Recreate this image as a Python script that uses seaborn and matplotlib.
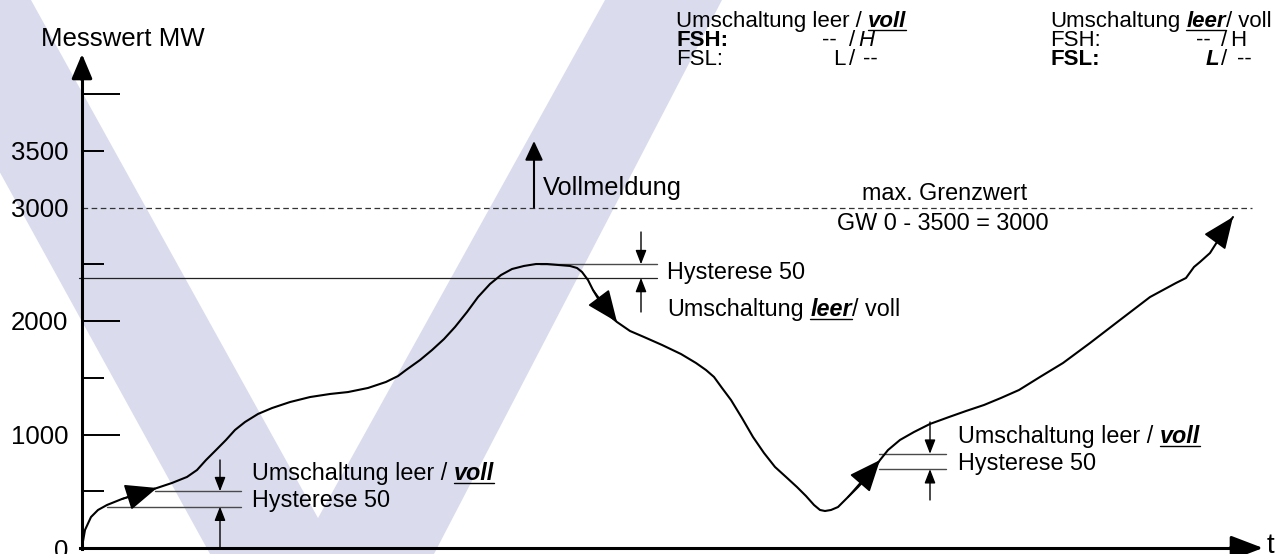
import matplotlib
matplotlib.use("Agg")
import matplotlib.pyplot as plt
import seaborn as sns
import pandas as pd
from matplotlib.patches import Polygon

# ---------------- data ----------------
t_values = [0, 3, 9, 16, 25, 40, 59, 75, 90, 105, 115, 124, 134, 144, 153, 163, 176, 190, 208, 228,
            248, 266, 286, 304, 316, 324, 338, 350, 362, 373, 385, 396, 408, 419, 430, 442, 454, 465,
            477, 488, 495, 500, 506, 511, 517, 523, 529, 535, 548, 562, 580, 599, 614, 624, 632, 640,
            649, 660, 671, 682, 693, 704, 715, 724, 732, 738, 743, 749, 756, 766, 776, 789, 798, 806,
            818, 832, 848, 867, 884, 902, 919, 937, 958, 981, 1008, 1038, 1068, 1094, 1104, 1112,
            1118, 1128, 1135, 1140, 1151]
mw_values = [10, 159, 273, 335, 379, 432, 485, 529, 573, 626, 687, 775, 863, 952, 1040, 1110, 1181,
             1233, 1286, 1330, 1357, 1374, 1410, 1463, 1515, 1568, 1656, 1744, 1841, 1947, 2079, 2211,
             2326, 2405, 2458, 2485, 2502, 2502, 2493, 2485, 2467, 2432, 2361, 2273, 2185, 2097, 2035,
             1991, 1912, 1859, 1789, 1709, 1630, 1568, 1507, 1410, 1304, 1145, 978, 837, 714, 626, 537,
             458, 379, 335, 326, 335, 361, 449, 537, 661, 775, 863, 952, 1022, 1093, 1154, 1207, 1260,
             1322, 1392, 1507, 1630, 1806, 2009, 2211, 2335, 2379, 2476, 2520, 2599, 2696, 2784, 2916]

y_major_ticks = [1000, 2000, 4000]
y_minor_ticks = [500, 1500, 2500, 3500]
y_label_values = [0, 1000, 2000, 3000, 3500]
y_label_texts = ["0", "1000", "2000", "3000", "3500"]
limit_value = 3000
vollmeldung_top = 3586
hyst_left = [500, 365]
hyst_top = [2500, 2380]
hyst_right = [830, 695]

# ---------------- figure / scales ----------------
X0, Y0, SY = 82, 548, 0.1135


def px(x):
    return x - X0


def py(y):
    return (Y0 - y) / SY


sns.set_theme(style="white")
plt.rcParams["font.family"] = ["Liberation Sans", "DejaVu Sans"]
plt.rcParams["text.color"] = "black"

fig = plt.figure(figsize=(12.85, 5.54), dpi=100)
ax = fig.add_axes([0, 0, 1, 1])
ax.set_facecolor("white")

# watermark "V"
wm = [(-95, 0), (31, 0), (318, 518), (605, 0), (722, 0), (434, 554), (210, 554)]
ax.add_patch(Polygon([(px(a), py(b)) for a, b in wm], closed=True,
                     facecolor="#dadcee", edgecolor="none", zorder=0))

df = pd.DataFrame({"t": t_values, "MW": mw_values})
sns.lineplot(data=df, x="t", y="MW", sort=False, estimator=None, color="black",
             lw=1.5, ax=ax, zorder=5)

ax.set_xlim(px(0), px(1285))
ax.set_ylim(py(554), py(0))
ax.set_xlabel("")
ax.set_ylabel("")

# axes as arrows
for s in ["top", "right"]:
    ax.spines[s].set_visible(False)
ax.spines["left"].set_position(("data", 0))
ax.spines["bottom"].set_position(("data", 0))
ax.spines["left"].set_bounds(py(549), py(70))
ax.spines["bottom"].set_bounds(px(80), px(1240))
for s in ["left", "bottom"]:
    ax.spines[s].set_linewidth(2.2)
    ax.spines[s].set_color("black")
    ax.spines[s].set_zorder(6)
ax.annotate("", xy=(0, py(54)), xytext=(0, py(80)),
            arrowprops=dict(arrowstyle="-|>,head_length=1.0,head_width=0.42",
                            mutation_scale=15, lw=2.2, color="black",
                            shrinkA=0, shrinkB=0), zorder=7)
ax.annotate("", xy=(px(1263), 0), xytext=(px(1230), 0),
            arrowprops=dict(arrowstyle="-|>,head_length=1.1,head_width=0.42",
                            mutation_scale=18, lw=2.2, color="black",
                            shrinkA=0, shrinkB=0), zorder=7)

ax.set_xticks([])
ax.set_yticks(y_major_ticks)
ax.set_yticks(y_minor_ticks, minor=True)
ax.tick_params(axis="y", which="major", direction="in", length=27.5, width=1.4,
               color="black", left=True, labelleft=False)
ax.tick_params(axis="y", which="minor", direction="in", length=16, width=1.4,
               color="black", left=True, labelleft=False)

for v, s in zip(y_label_values, y_label_texts):
    ax.text(px(68), v, s, ha="right", va="center_baseline", fontsize=18.5, color="black")

ax.text(px(41), py(46), "Messwert MW", ha="left", va="baseline", fontsize=18.6)
ax.text(px(1267), py(553), "t", ha="left", va="baseline", fontsize=20)

# limit line
ax.plot([0, px(1252)], [limit_value, limit_value], color="#333333", lw=0.9,
        dashes=(4.5, 2.8), zorder=3)
ax.annotate("", xy=(px(534), vollmeldung_top), xytext=(px(534), limit_value),
            arrowprops=dict(arrowstyle="-|>,head_length=0.9,head_width=0.42",
                            mutation_scale=13, lw=1.5, color="black",
                            shrinkA=0, shrinkB=0))
ax.text(px(543), py(195), "Vollmeldung", ha="left", va="baseline", fontsize=18.3)
ax.text(px(945), py(200), "max. Grenzwert", ha="center", va="baseline", fontsize=16.8)
ax.text(px(943), py(230), "GW 0 - 3500 = 3000", ha="center", va="baseline", fontsize=16.8)

# curve arrowheads
def curve_arrow(i_from, i_to, scale=20):
    ax.annotate("", xy=(t_values[i_to], mw_values[i_to]),
                xytext=(t_values[i_from], mw_values[i_from]),
                arrowprops=dict(arrowstyle="-|>,head_length=1.0,head_width=0.42",
                                mutation_scale=scale, lw=1.2, color="black",
                                shrinkA=0, shrinkB=0), zorder=6)


curve_arrow(5, 7)
curve_arrow(43, 47)
curve_arrow(69, 72)
curve_arrow(93, 94)

# hysteresis marks
HC = "#4a4a4a"


def small_arrow(x, y_from, y_to):
    ax.annotate("", xy=(x, y_to), xytext=(x, y_from),
                arrowprops=dict(arrowstyle="-|>,head_length=0.85,head_width=0.33",
                                mutation_scale=10, lw=1.0, color="black",
                                shrinkA=0, shrinkB=0))


ax.plot([px(155), px(241)], [hyst_left[0]] * 2, color=HC, lw=1.0, zorder=4)
ax.plot([px(107), px(241)], [hyst_left[1]] * 2, color=HC, lw=1.0, zorder=4)
small_arrow(px(220), py(460), hyst_left[0])
small_arrow(px(220), 0, hyst_left[1])

ax.plot([px(540), px(657)], [hyst_top[0]] * 2, color=HC, lw=1.0, zorder=4)
ax.plot([px(79), px(657)], [hyst_top[1]] * 2, color="#222222", lw=0.9, zorder=4)
small_arrow(px(641), py(232), hyst_top[0])
small_arrow(px(641), py(312), hyst_top[1])

ax.plot([px(879), px(946)], [hyst_right[0]] * 2, color=HC, lw=1.0, zorder=4)
ax.plot([px(879), px(946)], [hyst_right[1]] * 2, color=HC, lw=1.0, zorder=4)
small_arrow(px(930), py(422), hyst_right[0])
small_arrow(px(930), py(500), hyst_right[1])

# rich text helper
fig.canvas.draw()
renderer = fig.canvas.get_renderer()


def tw(s, size, weight="normal", style="normal"):
    t = ax.text(0, 0, s, fontsize=size, fontweight=weight, fontstyle=style)
    w = t.get_window_extent(renderer).width
    t.remove()
    return w


def rich(x, ybase, parts, size):
    cur = x
    sp = tw("a a", size) - tw("aa", size)
    for p in parts:
        s = p[0]
        weight = p[1] if len(p) > 1 else "normal"
        style = p[2] if len(p) > 2 else "normal"
        ul = p[3] if len(p) > 3 else False
        if s == " ":
            cur += sp
            continue
        ax.text(px(cur), py(ybase), s, fontsize=size, fontweight=weight, fontstyle=style,
                ha="left", va="baseline", color="black")
        wd = tw(s, size, weight, style)
        if ul:
            ax.plot([px(cur), px(cur + wd)], [py(ybase + 3)] * 2, color="black", lw=1.0)
        cur += wd


VOLL = [("Umschaltung leer /",), (" ",), ("voll", "bold", "italic", True)]
LEER = [("Umschaltung",), (" ",), ("leer", "bold", "italic", True), ("/ voll",)]

rich(252, 480, VOLL, 16.8)
rich(252, 507, [("Hysterese 50",)], 16.8)
rich(667, 279, [("Hysterese 50",)], 16.8)
rich(667, 316, LEER, 16.8)
rich(958, 443, VOLL, 16.8)
rich(958, 470, [("Hysterese 50",)], 16.8)

# top-right legend blocks
TS = 16
B1, B2, B3 = 27, 46, 65
rich(676, B1, VOLL, TS)
ax.text(px(676), py(B2), "FSH:", fontsize=TS, fontweight="bold", va="baseline")
ax.text(px(822), py(B2), "--", fontsize=TS, va="baseline")
ax.text(px(849), py(B2), "/", fontsize=TS, va="baseline")
ax.text(px(858), py(B2), "H", fontsize=TS, fontstyle="italic", va="baseline")
ax.text(px(676), py(B3), "FSL:", fontsize=TS, va="baseline")
ax.text(px(833), py(B3), "L", fontsize=TS, va="baseline")
ax.text(px(849), py(B3), "/", fontsize=TS, va="baseline")
ax.text(px(863), py(B3), "--", fontsize=TS, va="baseline")

rich(1050, B1, LEER, TS)
ax.text(px(1050), py(B2), "FSH:", fontsize=TS, va="baseline")
ax.text(px(1196), py(B2), "--", fontsize=TS, va="baseline")
ax.text(px(1221), py(B2), "/", fontsize=TS, va="baseline")
ax.text(px(1230), py(B2), "H", fontsize=TS, va="baseline")
ax.text(px(1050), py(B3), "FSL:", fontsize=TS, fontweight="bold", va="baseline")
ax.text(px(1206), py(B3), "L", fontsize=TS, fontstyle="italic", fontweight="bold", va="baseline")
ax.text(px(1221), py(B3), "/", fontsize=TS, va="baseline")
ax.text(px(1237), py(B3), "--", fontsize=TS, va="baseline")

fig.savefig("out.png", dpi=100)
